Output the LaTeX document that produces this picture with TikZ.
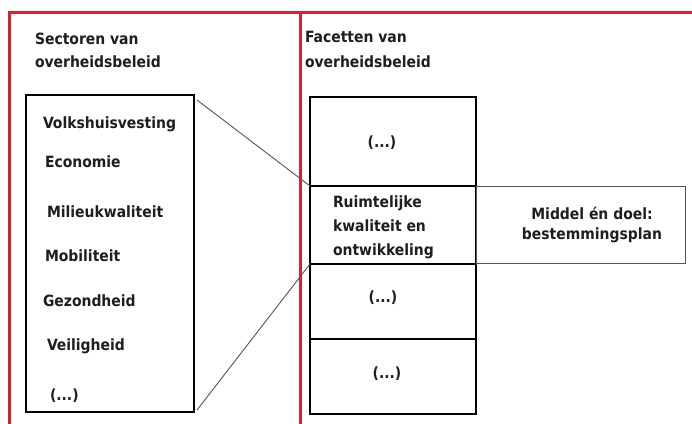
\documentclass[tikz,border=0pt]{standalone}
\usepackage{fontspec}
\setmainfont{DejaVu Sans Condensed}
\definecolor{redframe}{HTML}{D8232E}
\definecolor{txt}{HTML}{1E1E1E}
\definecolor{thin}{HTML}{555555}
\tikzset{
  every node/.style={inner sep=0pt, outer sep=0pt, text=txt, font=\fontsize{15.5}{18}\selectfont\bfseries},
  thickbox/.style={draw=black, line width=2pt, anchor=north west},
  sidebox/.style={draw=thin, line width=1pt, anchor=north west},
  lbl/.style={anchor=base west},
  ctr/.style={anchor=center},
  link/.style={draw=thin, line width=0.9pt},
  redline/.style={draw=redframe, line width=3pt}
}
\begin{document}
\begin{tikzpicture}[x=1pt,y=-1pt]
\useasboundingbox (0,0) rectangle (692,423);
\clip (0,0) rectangle (692,423);
\fill[white] (0,0) rectangle (692,423);
% red frame
\coordinate (rtl) at (9,12);
\coordinate (rtr) at (700,12);
\coordinate (rbl) at (9,430);
\coordinate (dtop) at (300,12);
\coordinate (dbot) at (300,430);
\draw[redline] (rbl) -- (rtl) -- (rtr);
\draw[redline] (dtop) -- (dbot);
% headings
\node[lbl] (h1a) at (35,44) {Sectoren van};
\node[lbl] (h1b) at (35,67) {overheidsbeleid};
\node[lbl] (h2a) at (305,42) {Facetten van};
\node[lbl] (h2b) at (305,67) {overheidsbeleid};
% left box
\node[thickbox, minimum width=168pt, minimum height=317pt] (sect) at (26,95) {};
\node[lbl] (s1) at (43,128) {Volkshuisvesting};
\node[lbl] (s2) at (45,167) {Economie};
\node[lbl] (s3) at (47,217) {Milieukwaliteit};
\node[lbl] (s4) at (45,261) {Mobiliteit};
\node[lbl] (s5) at (43,306) {Gezondheid};
\node[lbl] (s6) at (47,350) {Veiligheid};
\node[lbl] (s7) at (50,400) {(...)};
% right stack
\node[thickbox, minimum width=166pt, minimum height=89pt] (f1) at (310,97) {};
\node[thickbox, minimum width=166pt, minimum height=78pt] (f2) at (310,186) {};
\node[thickbox, minimum width=166pt, minimum height=75pt] (f3) at (310,264) {};
\node[thickbox, minimum width=166pt, minimum height=75pt] (f4) at (310,339) {};
\node[ctr] (t1) at (382,143) {(...)};
\node[lbl] (r1) at (333,207) {Ruimtelijke};
\node[lbl] (r2) at (333,231) {kwaliteit en};
\node[lbl] (r3) at (333,255) {ontwikkeling};
\node[ctr] (t3) at (383,298) {(...)};
\node[ctr] (t4) at (387,374) {(...)};
% side box
\node[sidebox, minimum width=209pt, minimum height=77pt] (side) at (476,186) {};
\node[ctr, align=center] (m1) at (592,213) {Middel én doel:};
\node[ctr] (m2) at (592,235) {bestemmingsplan};
% connectors
\draw[link] ([xshift=3pt,yshift=-5pt]sect.north east) -- (f2.north west);
\draw[link] ([xshift=3pt,yshift=2pt]sect.south east) -- (f3.north west);
\end{tikzpicture}
\end{document}
